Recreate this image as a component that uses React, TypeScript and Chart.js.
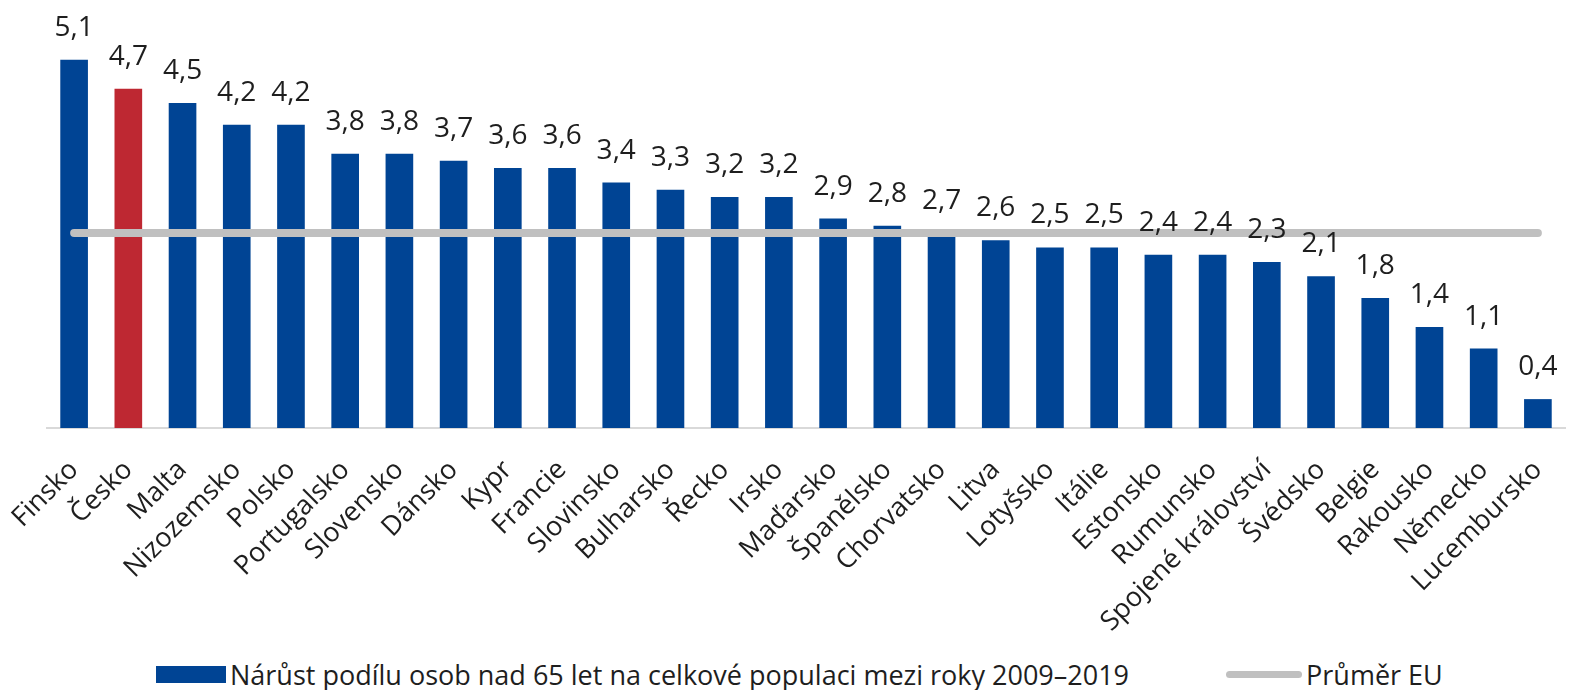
import React, { useEffect, useRef } from "react";
import { Chart, registerables } from "chart.js";

Chart.register(...registerables);

const categories = [
  "Finsko", "Česko", "Malta", "Nizozemsko", "Polsko", "Portugalsko", "Slovensko",
  "Dánsko", "Kypr", "Francie", "Slovinsko", "Bulharsko", "Řecko", "Irsko",
  "Maďarsko", "Španělsko", "Chorvatsko", "Litva", "Lotyšsko", "Itálie", "Estonsko",
  "Rumunsko", "Spojené království", "Švédsko", "Belgie", "Rakousko", "Německo", "Lucembursko",
];
const growthValues = [
  5.1, 4.7, 4.5, 4.2, 4.2, 3.8, 3.8, 3.7, 3.6, 3.6, 3.4, 3.3, 3.2, 3.2,
  2.9, 2.8, 2.7, 2.6, 2.5, 2.5, 2.4, 2.4, 2.3, 2.1, 1.8, 1.4, 1.1, 0.4,
];
const euAverageValues = [
  2.7, 2.7, 2.7, 2.7, 2.7, 2.7, 2.7, 2.7, 2.7, 2.7, 2.7, 2.7, 2.7, 2.7,
  2.7, 2.7, 2.7, 2.7, 2.7, 2.7, 2.7, 2.7, 2.7, 2.7, 2.7, 2.7, 2.7, 2.7,
];
const highlightedCategory = "Česko";
const seriesLabel = "Nárůst podílu osob nad 65 let na celkové populaci mezi roky 2009–2019";
const averageLabel = "Průměr EU";

const BLUE = "#004494";
const RED = "#be2832";
const GRAY = "#c0c0c0";
const TEXT = "#1e1e1e";
const FONT = "'Open Sans', sans-serif";

const valueLabelsPlugin = {
  id: "valueLabels",
  afterDatasetsDraw(chart: any) {
    const meta = chart.getDatasetMeta(0);
    const data = chart.data.datasets[0].data as number[];
    const ctx = chart.ctx;
    ctx.save();
    ctx.font = `28px ${FONT}`;
    ctx.fillStyle = TEXT;
    ctx.textAlign = "center";
    ctx.textBaseline = "alphabetic";
    meta.data.forEach((el: any, i: number) => {
      const txt = data[i].toFixed(1).replace(".", ",");
      ctx.fillText(txt, el.x, el.y - 24);
    });
    ctx.restore();
  },
};

export default function App() {
  const canvasRef = useRef<HTMLCanvasElement | null>(null);

  useEffect(() => {
    if (!canvasRef.current) return;
    const chart = new Chart(canvasRef.current, {
      type: "bar",
      data: {
        labels: categories,
        datasets: [
          {
            type: "bar",
            label: seriesLabel,
            data: growthValues,
            backgroundColor: categories.map((c) => (c === highlightedCategory ? RED : BLUE)),
            categoryPercentage: 1,
            barPercentage: 0.51,
            order: 1,
          } as any,
          {
            type: "line",
            label: averageLabel,
            data: euAverageValues,
            borderColor: GRAY,
            borderWidth: 8,
            borderCapStyle: "round",
            pointRadius: 0,
            fill: false,
            order: 0,
          } as any,
        ],
      },
      options: {
        responsive: false,
        animation: false,
        devicePixelRatio: 1,
        layout: { padding: { left: 47, right: 5, top: 2, bottom: 0 } },
        plugins: {
          legend: { display: false },
          tooltip: { enabled: false },
        },
        scales: {
          x: {
            grid: { display: false },
            border: { display: true, color: "#d9d9d9", width: 2 },
            ticks: {
              autoSkip: false,
              minRotation: 45,
              maxRotation: 45,
              padding: 18,
              color: TEXT,
              font: { family: FONT, size: 27 },
            },
            afterFit: (scale: any) => {
              scale.height = 222;
              scale.paddingLeft = 0;
              scale.paddingRight = 0;
            },
          },
          y: {
            display: false,
            min: 0,
            max: 5.9,
          },
        },
      },
      plugins: [valueLabelsPlugin],
    });
    return () => chart.destroy();
  }, []);

  return (
    <div style={{ position: "fixed", left: 0, top: 0, width: 1570, height: 690, background: "#fff", overflow: "hidden" }}>
      <canvas ref={canvasRef} width={1570} height={650} style={{ display: "block" }} />
      <div
        style={{
          position: "absolute",
          left: 156,
          top: 655,
          height: 38,
          display: "flex",
          alignItems: "center",
          fontFamily: FONT,
          fontSize: 27,
          color: TEXT,
          whiteSpace: "nowrap",
        }}
      >
        <span style={{ display: "inline-block", width: 70, height: 17, background: BLUE, marginRight: 4 }} />
        <span>{seriesLabel}</span>
        <span
          style={{
            display: "inline-block",
            width: 76,
            height: 7,
            borderRadius: 4,
            background: GRAY,
            marginLeft: 97,
            marginRight: 4,
          }}
        />
        <span>{averageLabel}</span>
      </div>
    </div>
  );
}
